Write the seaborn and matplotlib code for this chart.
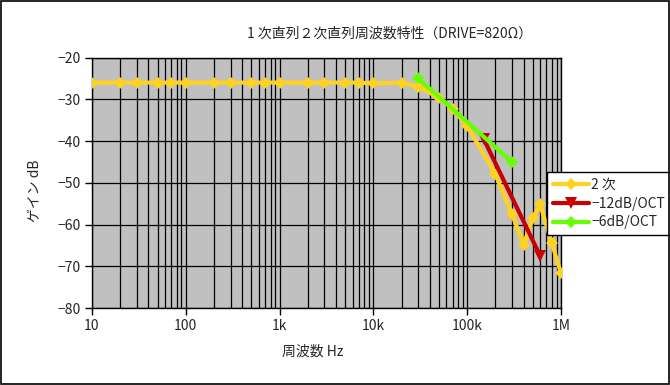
"""
1次直列・2次直列 周波数特性のグラフ (DRIVE=820Ω)
"""

import matplotlib
matplotlib.use('Agg')
import matplotlib.pyplot as plt
import matplotlib.ticker as mticker
from matplotlib.patches import Rectangle
import seaborn as sns

sns.set_style('white')
plt.rcParams['font.family'] = ['Noto Sans CJK JP', 'DejaVu Sans']
plt.rcParams['axes.unicode_minus'] = True

# データ
freq_2ji = [10, 20, 30, 50, 70, 100, 200, 300, 500, 700,
            1e3, 2e3, 3e3, 5e3, 7e3, 1e4, 2e4, 3e4, 5e4, 7e4,
            1e5, 2e5, 3e5, 4e5, 5e5, 6e5, 8e5, 1e6]
gain_2ji = [-26, -26, -26, -26, -26, -26, -26, -26, -26, -26,
            -26, -26, -26, -26, -26, -26.2, -26, -27, -29.6, -32.3,
            -36.4, -48, -57.5, -64.8, -58.5, -55.2, -64.5, -71.7]

freq_12db = [1.5e5, 6e5]
gain_12db = [-39.5, -67.5]

freq_6db = [3e4, 3e5]
gain_6db = [-25, -45]

x_ticks = [10, 100, 1e3, 1e4, 1e5, 1e6]
x_labels = ['10', '100', '1k', '10k', '100k', '1M']
y_ticks = [-20, -30, -40, -50, -60, -70, -80]

fig = plt.figure(figsize=(6.7, 3.85), dpi=100)
ax = fig.add_axes([0.1373, 0.2, 0.7, 0.6506])
ax.set_facecolor('#C0C0C0')

lw = 3.0
sns.lineplot(x=freq_2ji, y=gain_2ji, ax=ax, color='#FFD21F', linewidth=lw,
             marker='D', markersize=6, markeredgewidth=0, label='2 次', zorder=3)
sns.lineplot(x=freq_12db, y=gain_12db, ax=ax, color='#C80000', linewidth=lw,
             marker='v', markersize=8, markeredgewidth=0, label='−12dB/OCT', zorder=4)
sns.lineplot(x=freq_6db, y=gain_6db, ax=ax, color='#66FF00', linewidth=lw,
             marker='D', markersize=6, markeredgewidth=0, label='−6dB/OCT', zorder=5)

ax.set_xscale('log')
ax.set_xlim(10, 1e6)
ax.set_ylim(-80, -20)
ax.set_xticks(x_ticks)
ax.set_xticklabels(x_labels)
ax.xaxis.set_minor_locator(mticker.LogLocator(base=10, subs=range(2, 10)))
ax.xaxis.set_minor_formatter(mticker.NullFormatter())
ax.set_yticks(y_ticks)
ax.set_yticklabels([f'{v}'.replace('-', '−') for v in y_ticks])

ax.grid(which='both', axis='x', color='black', linewidth=0.9, zorder=1)
ax.grid(which='major', axis='y', color='black', linewidth=0.9, zorder=1)
ax.set_axisbelow(True)

for side, sp in ax.spines.items():
    sp.set_color('black')
    sp.set_linewidth(1.0)

ax.tick_params(axis='both', which='major', direction='out', length=5, width=1,
               color='black', labelsize=10, pad=3, left=True, bottom=True)
ax.tick_params(axis='x', which='minor', length=0)
ax.set_xlabel('')
ax.set_ylabel('')

fig.text(0.582, 0.914, '1 次直列２次直列周波数特性（DRIVE=820Ω）',
         ha='center', va='center', fontsize=10)
fig.text(0.052, 0.505, 'ゲイン dB', rotation=90, ha='center', va='center', fontsize=10)
fig.text(0.467, 0.086, '周波数 Hz', ha='center', va='center', fontsize=10)

ax.legend(loc='upper left', bbox_to_anchor=(0.8164, 0.553),
          bbox_transform=fig.transFigure, frameon=True, fancybox=False,
          edgecolor='black', framealpha=1, fontsize=10, handlelength=2.6,
          handletextpad=0.2, borderpad=0.4, labelspacing=0.35, borderaxespad=0)
ax.get_legend().get_frame().set_linewidth(1.0)

# 外枠
fig.patches.append(Rectangle((0.001, 0.002), 0.997, 0.996, transform=fig.transFigure,
                             fill=False, edgecolor='black', linewidth=1.2))

fig.savefig('out.png', dpi=100)
